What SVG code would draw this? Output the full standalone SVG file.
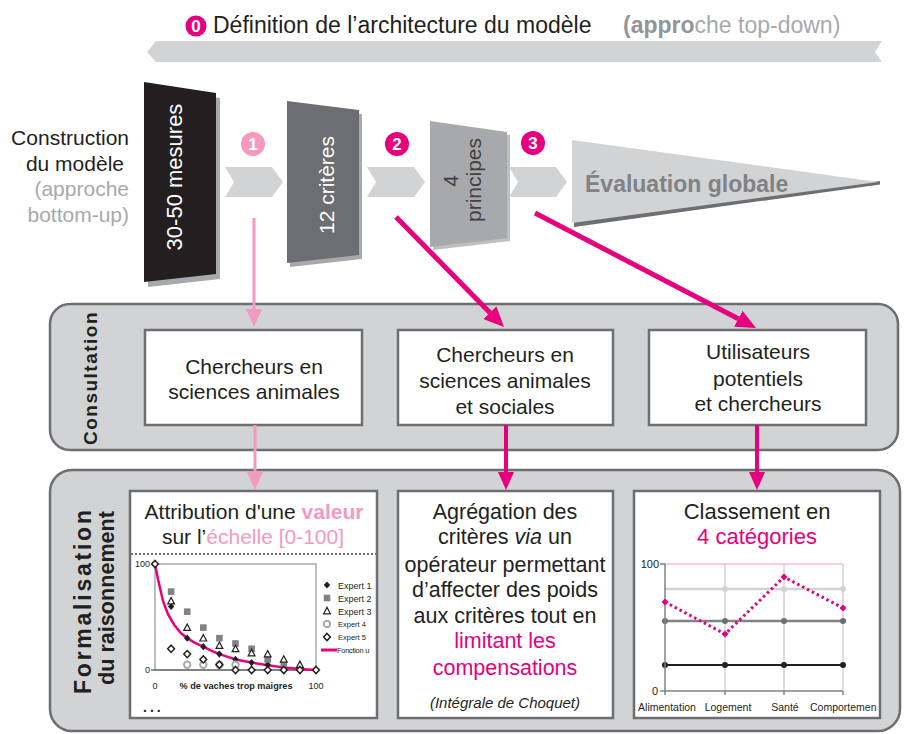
<svg xmlns="http://www.w3.org/2000/svg" xmlns:xlink="http://www.w3.org/1999/xlink" width="906" height="734" viewBox="0 0 906 734">
<style>
text{font-family:"Liberation Sans",Arial,sans-serif;fill:#231f20}
.t20{font-size:21px}
.t21{font-size:21.5px}
.c{text-anchor:middle}
.e{text-anchor:end}
.pink{fill:#f49ac1}
.mag{fill:#e6007e}
.gry{fill:#a7a9ac}
.w{fill:#fff}
.b{font-weight:bold}
.panel{fill:#d1d3d4;stroke:#6d6e71;stroke-width:2.5}
.box{fill:#fff;stroke:#6d6e71;stroke-width:2.5}
.chev{fill:#d1d3d4}
.num{font-size:17px;font-weight:bold;fill:#fff;text-anchor:middle}
.lp{stroke:#f49ac1;stroke-width:3;fill:none}
.lm{stroke:#e6007e;stroke-width:5;fill:none}
.lm4{stroke:#e6007e;stroke-width:4;fill:none}
.sm{font-size:9px}
.lg{font-size:10.5px}
.lgA{font-size:9px}
.lgB{font-size:7.5px}
</style>
<defs>
<marker id="ap" viewBox="0 0 18 16" refX="0" refY="8" markerWidth="18" markerHeight="16" markerUnits="userSpaceOnUse" orient="auto"><path d="M0,0 L18,8 L0,16 z" fill="#f49ac1"/></marker>
<marker id="am" viewBox="0 0 18 16" refX="0" refY="8" markerWidth="18" markerHeight="16" markerUnits="userSpaceOnUse" orient="auto"><path d="M0,0 L18,8 L0,16 z" fill="#e6007e"/></marker>
<marker id="amL" viewBox="0 0 20 18" refX="0" refY="9" markerWidth="20" markerHeight="18" markerUnits="userSpaceOnUse" orient="auto"><path d="M0,0 L20,9 L0,18 z" fill="#e6007e"/></marker>
<path id="m1" d="M0,-3.6 L3.2,0 L0,3.6 L-3.2,0 z" fill="#231f20"/>
<rect id="m2" x="-3.3" y="-3.3" width="6.6" height="6.6" fill="#808285"/>
<path id="m3" d="M0,-3.6 L3.4,2.8 L-3.4,2.8 z" fill="#fff" stroke="#231f20" stroke-width="1.2"/>
<circle id="m4" r="3.2" fill="#fff" stroke="#a7a9ac" stroke-width="2"/>
<path id="m5" d="M0,-3.6 L3.4,0 L0,3.6 L-3.4,0 z" fill="#fff" stroke="#231f20" stroke-width="1.5"/>
<path id="dm" d="M0,-3.5 L3.5,0 L0,3.5 L-3.5,0 z" fill="#e6007e"/>
</defs>

<!-- Top: architecture definition -->
<g id="top-down">
<polygon points="156,41 882,41 875,52 882,62 156,62 147,52" fill="#d1d3d4"/>
<circle cx="196" cy="26" r="10.5" fill="#e6007e"/>
<text x="196" y="32" class="num">0</text>
<text x="213" y="33" style="font-size:23px">Définition de l’architecture du modèle</text>
<text x="623" y="33" style="font-size:23px" class="gry"><tspan class="b" style="fill:#939598">(appro</tspan>che top-down)</text>
</g>

<g id="construction-label">
<text x="129" y="145" class="e" style="font-size:21px">Construction</text>
<text x="124" y="171" class="e" style="font-size:21px">du modèle</text>
<text x="129" y="196" class="e gry" style="font-size:21px">(approche</text>
<text x="129" y="222" class="e gry" style="font-size:21px">bottom-up)</text>
</g>

<g id="mesures">
<polygon points="148,87 220,98 220,279 148,287" fill="#a7a9ac"/>
<polygon points="144,82 216,93 216,274 144,282" fill="#231f20"/>
<text transform="translate(182,177) rotate(-90)" class="c w" style="font-size:22px">30-50 mesures</text>
</g>

<g id="step1">
<polygon class="chev" points="225,167 272,167 283,182 272,197 225,197 234,182"/>
<circle cx="253" cy="144" r="12" fill="#f49ac1"/>
<text x="253" y="150" class="num">1</text>
</g>

<g id="criteres">
<polygon points="290,105 362,114 362,259 290,267" fill="#a7a9ac"/>
<polygon points="287,101 359,110 359,255 287,263" fill="#6d6e71"/>
<text transform="translate(334,185) rotate(-90)" class="c w" style="font-size:21px">12 critères</text>
</g>

<g id="step2">
<polygon class="chev" points="367,167 414,167 425,182 414,197 367,197 376,182"/>
<circle cx="397" cy="144" r="12" fill="#e6007e"/>
<text x="397" y="150" class="num">2</text>
</g>

<g id="principes">
<polygon points="433,124 510,135 510,241 433,250" fill="#bcbec0"/>
<polygon points="430,121 507,132 507,238 430,247" fill="#a7a9ac"/>
<text transform="translate(458,181) rotate(-90)" class="c" style="font-size:21px;fill:#414042">4</text>
<text transform="translate(481,180) rotate(-90)" class="c" style="font-size:21px;fill:#414042">principes</text>
</g>

<g id="step3">
<polygon class="chev" points="509,167 556,167 567,182 556,197 509,197 518,182"/>
<circle cx="533" cy="143" r="12" fill="#e6007e"/>
<text x="533" y="149" class="num">3</text>
</g>

<g id="evaluation">
<polygon points="574,221 880,181 880,184.5 574,227" fill="#6d6e71"/>
<polygon points="572,140 878,182 572,223" fill="#d1d3d4"/>
<text x="585" y="192" class="b" style="font-size:23px;fill:#808285">Évaluation globale</text>
</g>

<!-- Consultation panel -->
<g id="consultation">
<rect class="panel" x="50" y="304" width="848" height="146" rx="20"/>
<text transform="translate(97,378) rotate(-90)" class="c b" style="font-size:19px;letter-spacing:1.5px">Consultation</text>
</g>
<g id="cons-animales">
<rect class="box" x="145" y="330" width="217" height="95"/>
<text x="254" y="374" class="c t20">Chercheurs en</text>
<text x="254" y="399" class="c t20">sciences animales</text>
</g>
<g id="cons-sociales">
<rect class="box" x="398" y="330" width="215" height="95"/>
<text x="505" y="362" class="c t20">Chercheurs en</text>
<text x="505" y="388" class="c t20">sciences animales</text>
<text x="505" y="414" class="c t20">et sociales</text>
</g>
<g id="cons-utilisateurs">
<rect class="box" x="649" y="330" width="217" height="95"/>
<text x="758" y="359" class="c t20">Utilisateurs</text>
<text x="758" y="386" class="c t20">potentiels</text>
<text x="758" y="411" class="c t20">et chercheurs</text>
</g>

<!-- Formalisation panel -->
<g id="formalisation">
<rect class="panel" x="50" y="470" width="850" height="261" rx="22"/>
<text transform="translate(91,602) rotate(-90)" class="c b" style="font-size:23px" textLength="184" lengthAdjust="spacing">Formalisation</text>
<text transform="translate(114,598) rotate(-90)" class="c b" style="font-size:22px" textLength="174" lengthAdjust="spacingAndGlyphs">du raisonnement</text>
</g>

<g id="valeur">
<rect class="box" x="130" y="491" width="247" height="227"/>
<text x="254" y="519" class="c" style="font-size:21px">Attribution d'une <tspan class="b pink">valeur</tspan></text>
<text x="253" y="544" class="c" style="font-size:21px">sur l’<tspan class="pink">échelle [0-100]</tspan></text>
<line x1="131" y1="554" x2="376" y2="554" stroke="#6d6e71" stroke-width="2" stroke-dasharray="2 2"/>
<rect x="155" y="564" width="161" height="106" fill="none" stroke="#939598" stroke-width="1.2"/>
<line x1="151" y1="670" x2="316" y2="670" stroke="#6d6e71" stroke-width="1.5"/>
<line x1="151" y1="564" x2="155" y2="564" stroke="#6d6e71" stroke-width="1.2"/>
<text x="150" y="567" class="e sm">100</text>
<text x="150" y="673" class="e sm">0</text>
<text x="155" y="689" class="c sm">0</text>
<text x="316" y="689" class="c sm">100</text>
<text x="236" y="689" class="c b" style="font-size:8.5px" textLength="113" lengthAdjust="spacingAndGlyphs">% de vaches trop maigres</text>
<polyline points="155,564 158.2,580 163,601 167.9,614 174.3,625 180.8,633 187.2,638.2 195,642.8 203.3,646.7 211,650.6 219.4,654.1 235.5,659.4 251.6,662.6 267.7,665.2 283.8,667.4 299.9,668.9 316,670" fill="none" stroke="#e6007e" stroke-width="2.5" stroke-linejoin="round"/>
<g>
<use xlink:href="#m1" x="171.1" y="606.4"/><use xlink:href="#m1" x="187.2" y="638.2"/><use xlink:href="#m1" x="203.3" y="646.7"/><use xlink:href="#m1" x="219.4" y="654.1"/><use xlink:href="#m1" x="235.5" y="659.4"/><use xlink:href="#m1" x="251.6" y="662.6"/><use xlink:href="#m1" x="267.7" y="664.7"/><use xlink:href="#m1" x="283.8" y="666.8"/>
<use xlink:href="#m2" x="171.1" y="591.6"/><use xlink:href="#m2" x="187.2" y="611.7"/><use xlink:href="#m2" x="203.3" y="627.6"/><use xlink:href="#m2" x="219.4" y="638.2"/><use xlink:href="#m2" x="235.5" y="643.5"/><use xlink:href="#m2" x="251.6" y="648.8"/><use xlink:href="#m2" x="267.7" y="659.4"/><use xlink:href="#m2" x="283.8" y="663.6"/>
<use xlink:href="#m3" x="171.1" y="601.1"/><use xlink:href="#m3" x="187.2" y="627.6"/><use xlink:href="#m3" x="203.3" y="638.2"/><use xlink:href="#m3" x="219.4" y="645.6"/><use xlink:href="#m3" x="235.5" y="648.8"/><use xlink:href="#m3" x="251.6" y="653"/><use xlink:href="#m3" x="267.7" y="654.1"/><use xlink:href="#m3" x="283.8" y="659.4"/><use xlink:href="#m3" x="299.9" y="664.7"/>
<use xlink:href="#m4" x="187.2" y="664.7"/><use xlink:href="#m4" x="203.3" y="664.7"/><use xlink:href="#m4" x="219.4" y="664.7"/><use xlink:href="#m4" x="235.5" y="664.7"/>
<use xlink:href="#m5" x="155" y="564"/><use xlink:href="#m5" x="171.1" y="648.8"/><use xlink:href="#m5" x="187.2" y="654.1"/><use xlink:href="#m5" x="203.3" y="659.4"/><use xlink:href="#m5" x="219.4" y="664.7"/><use xlink:href="#m5" x="235.5" y="670"/><use xlink:href="#m5" x="251.6" y="670"/><use xlink:href="#m5" x="267.7" y="670"/><use xlink:href="#m5" x="283.8" y="670"/><use xlink:href="#m5" x="299.9" y="670"/><use xlink:href="#m5" x="316" y="670"/>
</g>
<g>
<use xlink:href="#m1" x="327" y="585"/><text x="338" y="588.5" class="lgA">Expert 1</text>
<use xlink:href="#m2" x="327" y="598"/><text x="338" y="601.5" class="lgA">Expert 2</text>
<use xlink:href="#m3" x="327" y="611"/><text x="338" y="614.5" class="lgA">Expert 3</text>
<use xlink:href="#m4" x="327" y="624"/><text x="338" y="626.5" class="lgB">Expert 4</text>
<use xlink:href="#m5" x="327" y="637"/><text x="338" y="639.5" class="lgB">Expert 5</text>
<line x1="321" y1="650" x2="337" y2="650" stroke="#e6007e" stroke-width="3"/><text x="337" y="652.5" class="lgB" style="letter-spacing:-0.3px">Fonction u</text>
</g>
<text x="143" y="712" class="b" style="font-size:14px;letter-spacing:3px">...</text>
</g>

<g id="agregation">
<rect class="box" x="398" y="491" width="215" height="227"/>
<text x="505" y="519" class="c t21">Agrégation des</text>
<text x="505" y="544" class="c t21">critères <tspan style="font-style:italic">via</tspan> un</text>
<text x="505" y="572" class="c t21">opérateur permettant</text>
<text x="505" y="597" class="c t21">d’affecter des poids</text>
<text x="505" y="623" class="c t21">aux critères tout en</text>
<text x="505" y="648" class="c t21 mag">limitant les</text>
<text x="505" y="675" class="c t21 mag">compensations</text>
<text x="505" y="708" class="c" style="font-size:15px;font-style:italic">(Intégrale de Choquet)</text>
</g>

<g id="classement">
<rect class="box" x="634" y="491" width="246" height="227"/>
<text x="757" y="519" class="c" style="font-size:22px">Classement en</text>
<text x="757" y="544" class="c mag" style="font-size:22px">4 catégories</text>
<g stroke="#d1d3d4" stroke-width="1.5"><line x1="725" y1="564" x2="725" y2="691"/><line x1="784" y1="564" x2="784" y2="691"/><line x1="843" y1="564" x2="843" y2="691"/></g>
<line x1="665" y1="564" x2="843" y2="564" stroke="#f49ac1" stroke-width="1"/>
<line x1="665" y1="589" x2="843" y2="589" stroke="#d1d3d4" stroke-width="2.5"/>
<g fill="#d1d3d4"><circle cx="725" cy="589" r="3"/><circle cx="784" cy="589" r="3"/><circle cx="843" cy="589" r="3"/></g>
<line x1="665" y1="621" x2="843" y2="621" stroke="#808285" stroke-width="2.5"/>
<g fill="#6d6e71"><circle cx="665" cy="621" r="3"/><circle cx="725" cy="621" r="3"/><circle cx="784" cy="621" r="3"/><circle cx="843" cy="621" r="3"/></g>
<line x1="665" y1="665" x2="843" y2="665" stroke="#231f20" stroke-width="2"/>
<g fill="#231f20"><circle cx="665" cy="665" r="3"/><circle cx="725" cy="665" r="3"/><circle cx="784" cy="665" r="3"/><circle cx="843" cy="665" r="3"/></g>
<g stroke="#808285" stroke-width="1.5"><line x1="665" y1="564" x2="665" y2="691"/><line x1="660" y1="564" x2="665" y2="564"/><line x1="660" y1="691" x2="843" y2="691"/><line x1="725" y1="691" x2="725" y2="695"/><line x1="784" y1="691" x2="784" y2="695"/><line x1="843" y1="691" x2="843" y2="695"/><line x1="665" y1="691" x2="665" y2="695"/></g>
<polyline points="665,602 725,634 784,577 843,608" fill="none" stroke="#e6007e" stroke-width="3" stroke-dasharray="2.5 3"/>
<use xlink:href="#dm" x="665" y="602"/><use xlink:href="#dm" x="725" y="634"/><use xlink:href="#dm" x="784" y="577"/><use xlink:href="#dm" x="843" y="608"/>
<text x="659" y="568" class="e" style="font-size:11px">100</text>
<text x="658" y="695" class="e" style="font-size:11px">0</text>
<text x="667" y="711" class="c lg">Alimentation</text>
<text x="728" y="711" class="c lg">Logement</text>
<text x="785" y="711" class="c lg">Santé</text>
<text x="810" y="711" class="lg">Comportemen</text>
</g>

<!-- Connectors -->
<g id="connectors">
<line class="lp" x1="254" y1="218" x2="254" y2="309" marker-end="url(#ap)"/>
<line class="lm" x1="396" y1="217" x2="490" y2="312.7" marker-end="url(#amL)"/>
<line class="lm" x1="535" y1="213" x2="738.3" y2="318.8" marker-end="url(#amL)"/>
<line class="lp" x1="255" y1="425" x2="255" y2="472" marker-end="url(#ap)"/>
<line class="lm4" x1="506" y1="425" x2="506" y2="472" marker-end="url(#am)"/>
<line class="lm4" x1="757" y1="425" x2="757" y2="472" marker-end="url(#am)"/>
</g>
</svg>
